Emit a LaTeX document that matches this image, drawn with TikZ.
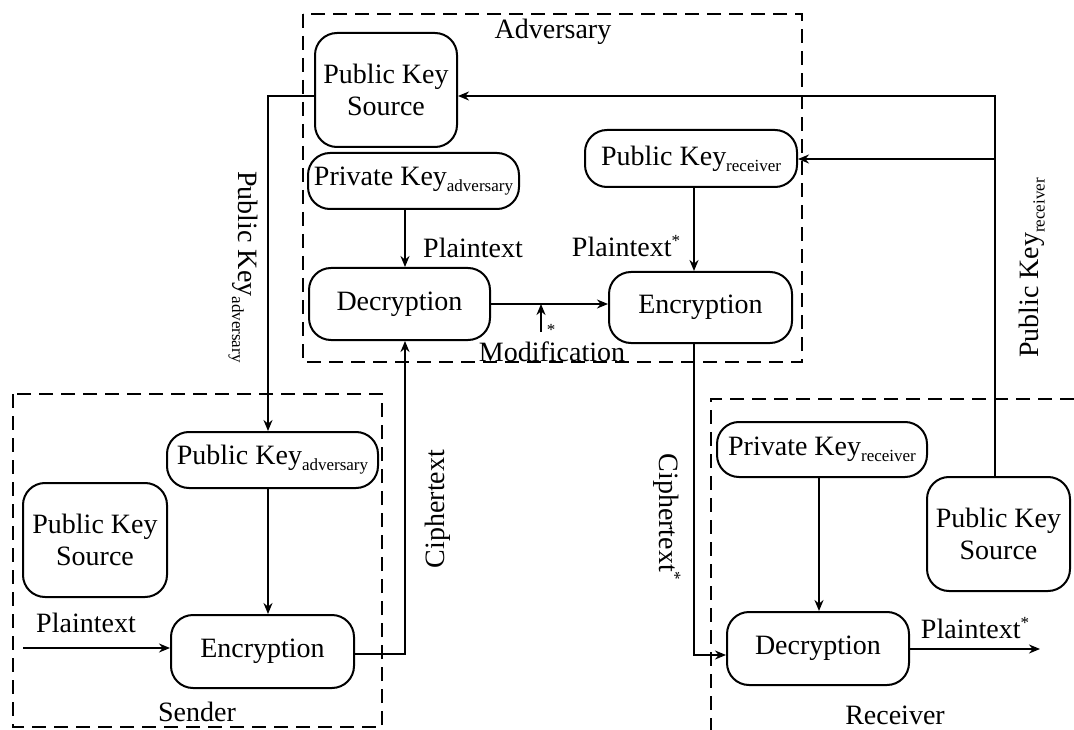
\documentclass[tikz,border=0pt]{standalone}
\usepackage{fontspec}
\setmainfont{Liberation Serif}
\usetikzlibrary{arrows.meta}
\newcommand{\sbs}[1]{\raisebox{-6pt}{\fontsize{17}{18}\selectfont #1}}
\newcommand{\sps}{\raisebox{10pt}{\fontsize{17}{18}\selectfont *}}
\tikzset{
  every node/.style={font=\fontsize{28}{32}\selectfont},
  blk/.style={draw, line width=2pt, rounded corners=22pt, inner sep=0pt, align=center},
  grp/.style={draw, line width=2pt, dash pattern=on 14pt off 8pt},
  arr/.style={line width=2pt, -{Stealth[length=11pt,width=9pt]}},
  lbl/.style={inner sep=0pt, align=center}
}
\begin{document}
\begin{tikzpicture}[x=1pt,y=-1pt]
\useasboundingbox (0,0) rectangle (1074,730);
% group boxes
\draw[grp] (303,14) rectangle (802,362);
\draw[grp] (13,394) rectangle (382,727);
\draw[grp] (1074,399) -- (711,399) -- (711,730);
% adversary blocks
\node[blk, minimum width=142pt, minimum height=114pt] (aPKS) at (386,90) {Public Key\\Source};
\node[blk, minimum width=211pt, minimum height=56pt] (aPriv) at (413.5,181) {Private Key\sbs{adversary}};
\node[blk, minimum width=212pt, minimum height=57pt] (aPub) at (691,158.5) {Public Key\sbs{receiver}};
\node[blk, minimum width=181pt, minimum height=72pt] (aDec) at (399.5,304) {Decryption};
\node[blk, minimum width=183pt, minimum height=71pt] (aEnc) at (700.5,307.5) {Encryption};
% sender blocks
\node[blk, minimum width=211pt, minimum height=56pt] (sPub) at (272.5,460) {Public Key\sbs{adversary}};
\node[blk, minimum width=144pt, minimum height=114pt] (sPKS) at (95,540) {Public Key\\Source};
\node[blk, minimum width=183pt, minimum height=73pt] (sEnc) at (262.5,651.5) {Encryption};
% receiver blocks
\node[blk, minimum width=210pt, minimum height=55pt] (rPriv) at (822,449.5) {Private Key\sbs{receiver}};
\node[blk, minimum width=143pt, minimum height=114pt] (rPKS) at (998.5,534) {Public Key\\Source};
\node[blk, minimum width=182pt, minimum height=73pt] (rDec) at (818,648.5) {Decryption};
% coordinates
\coordinate (l1) at (268,96);
\coordinate (r1) at (995,96);
\coordinate (r2) at (995,159);
\coordinate (c405) at (405,0);
\coordinate (c694) at (694,0);
\coordinate (c819) at (819,0);
\coordinate (m1) at (541,332);
\coordinate (m2) at (541,304);
\coordinate (pin) at (23,648);
\coordinate (ct) at (405,654);
\coordinate (cs) at (694,655);
\coordinate (pout) at (1040,649);
% connectors
\draw[arr] (aPKS.west |- l1) -- (l1) -- (sPub.north -| l1);
\draw[arr] (rPKS.north -| r1) -- (r1) -- (aPKS.east |- r1);
\draw[arr] (r2) -- (aPub.east |- r2);
\draw[arr] (aPriv.south -| c405) -- (aDec.north -| c405);
\draw[arr] (aPub.south -| c694) -- (aEnc.north -| c694);
\draw[arr] (aDec.east |- m2) -- (aEnc.west |- m2);
\draw[arr] (m1) -- (m2);
\draw[arr] (sPub.south -| l1) -- (sEnc.north -| l1);
\draw[arr] (pin) -- (sEnc.west |- pin);
\draw[arr] (sEnc.east |- ct) -- (ct) -- (aDec.south -| ct);
\draw[arr] (aEnc.south -| cs) -- (cs) -- (rDec.west |- cs);
\draw[arr] (rPriv.south -| c819) -- (rDec.north -| c819);
\draw[arr] (rDec.east |- pout) -- (pout);
% labels
\node[lbl] (tAdv) at (553,32) {Adversary};
\node[lbl] (tPl1) at (473,248) {Plaintext};
\node[lbl] (tPl2) at (626,246) {Plaintext\sps};
\node[lbl] (tMod) at (552,352) {Modification};
\node[lbl, font=\fontsize{17}{18}\selectfont] (tStar) at (551,330) {*};
\node[lbl, rotate=-90] (tPKa) at (243,267) {Public Key\sbs{adversary}};
\node[lbl, rotate=90] (tPKr) at (1032,268) {Public Key\sbs{receiver}};
\node[lbl, rotate=90] (tCi) at (438,509) {Ciphertext};
\node[lbl, rotate=-90] (tCs) at (667,517) {Ciphertext\sps};
\node[lbl] (tSnd) at (197,712) {Sender};
\node[lbl] (tRcv) at (895,715) {Receiver};
\node[lbl] (tPl3) at (86,623) {Plaintext};
\node[lbl] (tPl4) at (975,628) {Plaintext\sps};
\end{tikzpicture}
\end{document}
